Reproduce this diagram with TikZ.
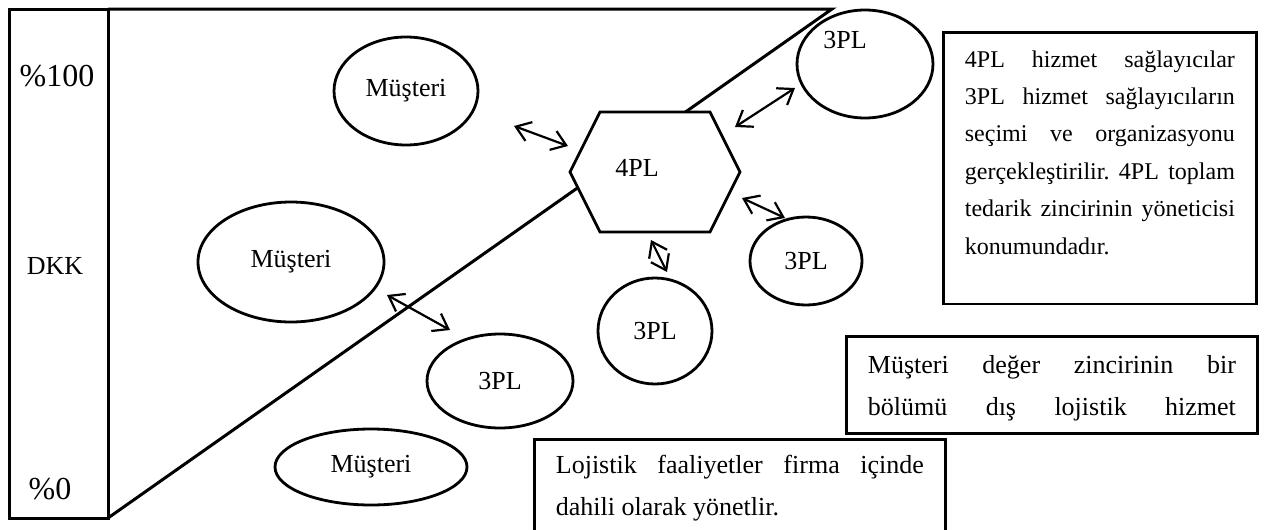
\documentclass[tikz,border=0pt]{standalone}
\usepackage{fontspec}
\setmainfont{Liberation Serif}
\usetikzlibrary{arrows.meta}
\usetikzlibrary{shapes.geometric}
\usetikzlibrary{positioning}
\frenchspacing

\newcommand{\jline}[2]{\makebox[#1][s]{#2}}
\newcommand{\lowdepth}[1]{\rule[-#1]{0pt}{#1}}

\begin{document}
\begin{tikzpicture}[x=0.5pt,y=-0.5pt,>={Straight Barb[length=7pt,width=10pt]},
    txt/.style={font=\fontsize{13}{15}\selectfont, inner sep=0pt},
    pct/.style={font=\fontsize{16}{19}\selectfont, inner sep=0pt},
    oval/.style={draw, ellipse, line width=1.4pt, fill=white, inner sep=0pt, font=\fontsize{13}{15}\selectfont},
    infobox/.style={draw, line width=1.4pt, fill=white, anchor=north west, align=left, inner xsep=10.75pt, inner ysep=8pt},
    link/.style={<->, line width=1.1pt}]

    \useasboundingbox (0,0) rectangle (1264,530);
    \clip (0,0) rectangle (1264,530);

    % Frame
    \draw[line width=1.5pt] (9,9) rectangle (108,518);
    \draw[line width=1.5pt] (108,9) -- (832,9) -- (108,518);

    % Scale
    \node[pct] (p100) at (57,76) {\%100};
    \node[txt] (dkk) at (55,266) {DKK};
    \node[pct] (p0) at (50,489) {\%0};

    % 4PL hexagon
    \draw[line width=1.4pt, fill=white] (600,112) -- (710,112) -- (740,172) -- (710,232) -- (600,232) -- (570,172) -- cycle;
    \node[txt] (fourpl) at (637,168) {4PL};

    % Customers
    \node[oval, minimum width=72pt, minimum height=54pt] (cust1) at (406,91) {Müşteri};
    \node[oval, minimum width=93pt, minimum height=60pt] (cust2) at (291,262) {Müşteri};
    \node[oval, minimum width=96pt, minimum height=38pt] (cust3) at (371,467) {Müşteri};

    % 3PL providers
    \node[oval, minimum width=68pt, minimum height=54pt, text depth=24pt] (tpl1) at (865,64) {3PL\kern20pt};
    \node[oval, minimum width=56pt, minimum height=44pt] (tpl2) at (806,261) {3PL};
    \node[oval, minimum width=57pt, minimum height=53pt] (tpl3) at (655,331) {3PL};
    \node[oval, minimum width=73pt, minimum height=47pt] (tpl4) at (500,381) {3PL};

    % Text boxes
    \node[infobox, inner xsep=10.75pt, inner ysep=9pt, font=\fontsize{12}{18.7}\selectfont] (info1) at (942,31)
        {\jline{135pt}{4PL hizmet sağlayıcılar}\\
         \jline{135pt}{3PL hizmet sağlayıcıların}\\
         \jline{135pt}{seçimi ve organizasyonu}\\
         \jline{135pt}{gerçekleştirilir. 4PL toplam}\\
         \jline{135pt}{tedarik zincirinin yöneticisi}\\
         konumundadır.\lowdepth{16pt}};
    \node[infobox, inner ysep=2pt, minimum height=48.5pt, font=\fontsize{13}{21}\selectfont] (info2) at (845,335)
        {\rule{0pt}{12.3pt}\jline{184pt}{Müşteri değer zincirinin bir}\\
         \jline{184pt}{bölümü dış lojistik hizmet}};
    \node[infobox, font=\fontsize{13}{21}\selectfont] (info3) at (533,438)
        {\jline{184pt}{Lojistik faaliyetler firma içinde}\\
         dahili olarak yönetlir.\lowdepth{10pt}};

    % Connections
    \coordinate (c1a) at (514,126);
    \coordinate (c1b) at (568,146);
    \coordinate (c2a) at (735,127);
    \coordinate (c2b) at (795,88);
    \coordinate (c3a) at (742,198);
    \coordinate (c3b) at (785,218);
    \coordinate (c4a) at (651,240);
    \coordinate (c4b) at (667,272);
    \coordinate (c5a) at (387,295);
    \coordinate (c5b) at (450,330);
    \draw[link] (c1a) -- (c1b);
    \draw[link] (c2a) -- (c2b);
    \draw[link] (c3a) -- (c3b);
    \draw[link] (c4a) -- (c4b);
    \draw[link] (c5a) -- (c5b);

\end{tikzpicture}
\end{document}
